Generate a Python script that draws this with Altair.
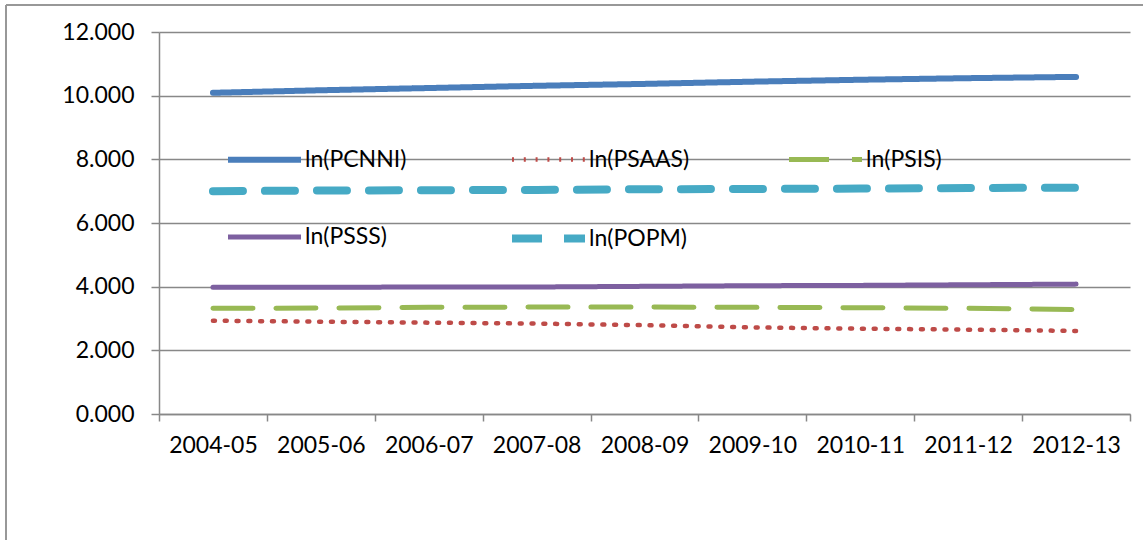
import altair as alt
import pandas as pd

periods = ["2004-05", "2005-06", "2006-07", "2007-08", "2008-09",
           "2009-10", "2010-11", "2011-12", "2012-13"]
series = ["ln(PCNNI)", "ln(PSAAS)", "ln(PSIS)", "ln(PSSS)", "ln(POPM)"]

pcnni = [10.09, 10.17, 10.24, 10.31, 10.37, 10.44, 10.50, 10.55, 10.59]
psaas = [2.93, 2.90, 2.87, 2.84, 2.79, 2.72, 2.68, 2.65, 2.61]
psis = [3.32, 3.33, 3.35, 3.36, 3.36, 3.35, 3.34, 3.32, 3.28]
psss = [3.98, 3.98, 3.99, 3.99, 4.01, 4.03, 4.04, 4.06, 4.08]
popm = [7.00, 7.02, 7.03, 7.04, 7.06, 7.07, 7.08, 7.10, 7.11]

y_ticks = [0, 2, 4, 6, 8, 10, 12]

colors = ["#4A7EBB", "#BE4B48", "#98B954", "#7D60A0", "#46AAC5"]
dashes = [[1, 0], [2, 9.8], [40, 23], [1, 0], [30, 22]]
widths = [6, 4.5, 5, 5, 8]

values = {"ln(PCNNI)": pcnni, "ln(PSAAS)": psaas, "ln(PSIS)": psis,
          "ln(PSSS)": psss, "ln(POPM)": popm}
rows = []
for s in series:
    for p, v in zip(periods, values[s]):
        rows.append({"series": s, "period": p, "value": v})
df = pd.DataFrame(rows)

FONT = "Lato"
GRAY = "#888888"

legend = alt.Legend(
    title=None, orient="none", legendX=65, legendY=88, columns=3,
    direction="horizontal",
    symbolType="stroke", symbolSize=5329, labelFont=FONT, labelFontSize=23,
    labelColor="black", labelOffset=0, columnPadding=89, rowPadding=26,
    symbolOpacity=1,
)

lines = alt.Chart(df).mark_line(strokeCap="round", strokeJoin="round").encode(
    x=alt.X("period:O", sort=periods,
            scale=alt.Scale(type="band", paddingInner=0, paddingOuter=0),
            axis=alt.Axis(title=None, labelAngle=0, labelFont=FONT,
                          labelFontSize=23, labelColor="black",
                          labelPadding=13, tickBand="extent", tickSize=7,
                          tickColor=GRAY, tickWidth=1.5, domainColor=GRAY,
                          domainWidth=1.5, grid=False)),
    y=alt.Y("value:Q", scale=alt.Scale(domain=[0, 12], nice=False, zero=True),
            axis=alt.Axis(title=None, values=y_ticks, format=".3f",
                          labelFont=FONT, labelFontSize=23, labelColor="black",
                          labelPadding=17, tickSize=8, tickColor=GRAY,
                          tickWidth=1.5, domainColor=GRAY, domainWidth=1.5,
                          grid=True, gridColor=GRAY, gridWidth=1.3)),
    color=alt.Color("series:N", sort=series,
                    scale=alt.Scale(domain=series, range=colors), legend=legend),
    strokeDash=alt.StrokeDash("series:N", sort=series,
                              scale=alt.Scale(domain=series, range=dashes),
                              legend=legend),
    strokeWidth=alt.StrokeWidth("series:N", sort=series,
                                scale=alt.Scale(type="ordinal", domain=series,
                                                range=widths),
                                legend=legend),
    order=alt.Order("period:O"),
)

border_top = alt.Chart(df).mark_rule(color="#999999", strokeWidth=1.5).encode(
    x=alt.value(-153), x2=alt.value(990), y=alt.value(-27))
border_left = alt.Chart(df).mark_rule(color="#999999", strokeWidth=1.5).encode(
    x=alt.value(-153), y=alt.value(-27), y2=alt.value(520))

chart = alt.layer(border_top, border_left, lines).properties(
    width=971, height=382,
    autosize=alt.AutoSizeParams(type="none"),
    padding={"left": 159, "top": 32, "right": 13, "bottom": 126},
    background="white",
).configure_view(stroke=None)

chart.save("out.html", embed_options={"renderer": "svg", "actions": False})
